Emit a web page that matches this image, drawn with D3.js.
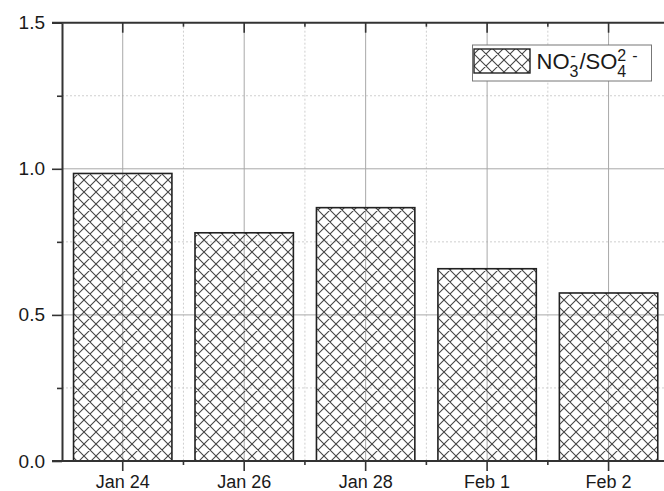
<!DOCTYPE html>
<html>
<head>
<meta charset="utf-8">
<script src="https://cdn.jsdelivr.net/npm/d3@7"></script>
<style>
  html, body { margin: 0; padding: 0; background: #fff; }
  svg { display: block; font-family: "Liberation Sans", Arial, sans-serif; }
</style>
</head>
<body>
<svg id="chart" width="664" height="491"></svg>
<script>
// NO3-/SO4(2-) ratio by sampling date
const categories = ["Jan 24", "Jan 26", "Jan 28", "Feb 1", "Feb 2"];
const ratioValues = [0.984, 0.781, 0.867, 0.658, 0.575];
const yMajorTicks = [0, 0.5, 1.0, 1.5];
const yMinorTicks = [0.25, 0.75, 1.25];

const svg = d3.select("#chart");
const plotL = 62, plotT = 22.7, plotB = 461, plotR = 669.3;

const x = d3.scaleBand()
  .domain(categories)
  .range([plotL, plotR])
  .paddingInner(0.19)
  .paddingOuter(0.095);
const y = d3.scaleLinear().domain([0, 1.5]).range([plotB, plotT]);

const step = x.step();
const centers = categories.map(c => x(c) + x.bandwidth() / 2);
const minorX = centers.slice(0, -1).map(c => c + step / 2);

// Crosshatch pattern for the bars
const defs = svg.append("defs");
const pat = defs.append("pattern")
  .attr("id", "xhatch")
  .attr("patternUnits", "userSpaceOnUse")
  .attr("width", 12).attr("height", 12);
pat.append("path")
  .attr("d", "M0,0 L12,12 M12,0 L0,12 M-1,11 L1,13 M11,-1 L13,1 M-1,1 L1,-1 M11,13 L13,11")
  .attr("stroke", "#444").attr("stroke-width", 1.1).attr("fill", "none");

// Grid lines
const grid = svg.append("g");
grid.selectAll(".hmin").data(yMinorTicks).join("line")
  .attr("x1", plotL).attr("x2", 664)
  .attr("y1", d => y(d)).attr("y2", d => y(d))
  .attr("stroke", "#cfcfcf").attr("stroke-dasharray", "2,2");
grid.selectAll(".vmin").data(minorX).join("line")
  .attr("x1", d => d).attr("x2", d => d)
  .attr("y1", plotT).attr("y2", plotB)
  .attr("stroke", "#cfcfcf").attr("stroke-dasharray", "2,2");
grid.selectAll(".hmaj").data([0.5, 1.0]).join("line")
  .attr("x1", plotL).attr("x2", 664)
  .attr("y1", d => y(d)).attr("y2", d => y(d))
  .attr("stroke", "#a8a8a8");
grid.selectAll(".vmaj").data(centers).join("line")
  .attr("x1", d => d).attr("x2", d => d)
  .attr("y1", plotT).attr("y2", plotB)
  .attr("stroke", "#a8a8a8");

// Bars
svg.append("g").selectAll("rect").data(ratioValues).join("rect")
  .attr("x", (d, i) => x(categories[i]))
  .attr("y", d => y(d))
  .attr("width", x.bandwidth())
  .attr("height", d => plotB - y(d))
  .attr("fill", "url(#xhatch)")
  .attr("stroke", "#222").attr("stroke-width", 1.6);

// Axes
function styleAxis(size) {
  return g => {
    g.select(".domain").attr("stroke", "#333").attr("stroke-width", 2);
    g.selectAll(".tick line").attr("stroke", "#333").attr("stroke-width", 1.6);
    g.selectAll(".tick text").attr("fill", "#1a1a1a").style("font-size", size + "px")
      .style("font-family", "'Liberation Sans', Arial, sans-serif");
  };
}

// left axis
svg.append("g").attr("transform", `translate(${plotL},0)`)
  .call(d3.axisLeft(y).tickValues(yMajorTicks).tickFormat(d3.format(".1f"))
    .tickSize(10).tickPadding(7).tickSizeOuter(0))
  .call(styleAxis(19));
svg.append("g").attr("transform", `translate(${plotL},0)`)
  .call(d3.axisLeft(y).tickValues(yMinorTicks).tickFormat("").tickSize(5).tickSizeOuter(0))
  .call(g => g.select(".domain").remove())
  .call(styleAxis(19));

// bottom axis
svg.append("g").attr("transform", `translate(0,${plotB})`)
  .call(d3.axisBottom(x).tickSize(10).tickPadding(4).tickSizeOuter(0))
  .call(g => g.select(".domain").attr("d", `M${plotL - 10},0H664`))
  .call(styleAxis(18));
svg.append("g").selectAll("line").data(minorX).join("line")
  .attr("x1", d => d).attr("x2", d => d)
  .attr("y1", plotB).attr("y2", plotB + 4)
  .attr("stroke", "#333").attr("stroke-width", 1.6);

// top axis (inward ticks, no labels)
svg.append("g").attr("transform", `translate(0,${plotT})`)
  .call(d3.axisTop(x).tickSize(-10).tickFormat("").tickSizeOuter(0))
  .call(g => g.select(".domain").attr("d", `M${plotL - 10},0H664`))
  .call(styleAxis(18));
svg.append("g").selectAll("line").data(minorX).join("line")
  .attr("x1", d => d).attr("x2", d => d)
  .attr("y1", plotT).attr("y2", plotT + 4)
  .attr("stroke", "#333").attr("stroke-width", 1.6);

// Legend
const lg = svg.append("g");
lg.append("rect").attr("x", 472.5).attr("y", 45).attr("width", 179).attr("height", 36)
  .attr("fill", "#fff").attr("stroke", "#777").attr("stroke-width", 1);
lg.append("rect").attr("x", 474).attr("y", 49).attr("width", 56).attr("height", 24)
  .attr("fill", "url(#xhatch)").attr("stroke", "#222").attr("stroke-width", 1.4);

// Legend label built as one text with stacked sub/superscripts
const baseY = 68.5;
const label = lg.append("text").attr("fill", "#1a1a1a");
let cx = 536.5;
function part(txt, xPos, yPos, size) {
  const t = label.append("tspan").attr("x", xPos).attr("y", yPos)
    .style("font-size", size + "px").text(txt);
  return t.node().getComputedTextLength();
}
cx += part("NO", cx, baseY, 22);
{
  const w1 = part("3", cx, baseY + 8, 16);
  part("-", cx + 1, baseY - 8, 16);
  cx += w1 + 1;
}
cx += part("/SO", cx, baseY, 22);
{
  const w1 = part("4", cx, baseY + 8, 16);
  part("2", cx, baseY - 8, 16);
  part("-", cx + w1 + 6, baseY - 8, 16);
}
</script>
</body>
</html>
